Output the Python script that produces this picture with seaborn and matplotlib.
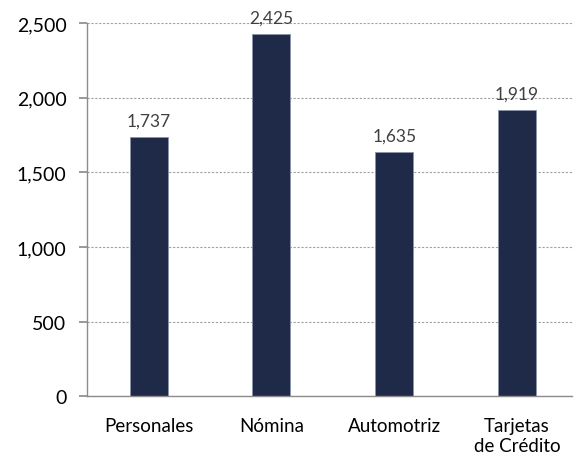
import matplotlib
matplotlib.use("Agg")
import matplotlib.pyplot as plt
import seaborn as sns
import pandas as pd

categories = ["Personales", "Nómina", "Automotriz", "Tarjetas\nde Crédito"]
values = [1737, 2425, 1635, 1919]
y_ticks = [0, 500, 1000, 1500, 2000, 2500]

sns.set_theme(style="white")
plt.rcParams['font.family'] = ['Lato', 'DejaVu Sans']

df = pd.DataFrame({"cat": categories, "val": values})

fig = plt.figure(figsize=(5.74, 4.64), dpi=100)
ax = fig.add_axes([0.152, 0.144, 0.845, 0.804])

sns.barplot(data=df, x="cat", y="val", color="#1f2a48", width=0.31,
            saturation=1, edgecolor="#8a93a8", linewidth=0.6, ax=ax)

for i, v in enumerate(values):
    ax.text(i, v + 55, f"{v:,}", ha="center", va="bottom", fontsize=12.5, color="#404040")

ax.set_ylim(0, 2500)
ax.set_xlim(-0.5, 3.45)
ax.set_yticks(y_ticks)
ax.set_yticklabels([f"{t:,}" for t in y_ticks])
ax.yaxis.grid(True, linestyle=(0, (2, 1.5)), color="#a0a0a0", linewidth=0.8)
ax.set_axisbelow(True)
ax.set_xlabel("")
ax.set_ylabel("")

for s in ["top", "right"]:
    ax.spines[s].set_visible(False)
for s in ["left", "bottom"]:
    ax.spines[s].set_color("#8c8c8c")
    ax.spines[s].set_linewidth(1)

ax.tick_params(axis="y", left=True, length=6, color="#8c8c8c", labelsize=14, pad=9, labelcolor="black")
ax.tick_params(axis="x", bottom=False, labelsize=13.5, pad=9, labelcolor="black")

fig.savefig("out.png", dpi=100)
